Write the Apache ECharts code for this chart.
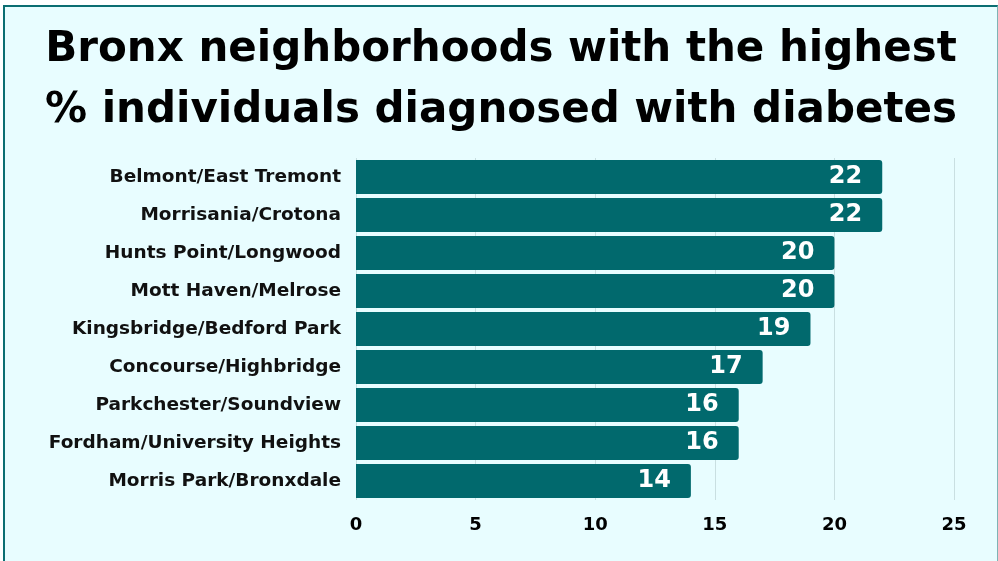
<!DOCTYPE html>
<html>
<head>
<meta charset="utf-8">
<script src="https://cdn.jsdelivr.net/npm/echarts@6/dist/echarts.min.js"></script>
<style>
  html, body { margin: 0; padding: 0; background: #ffffff; }
  #frame {
    position: absolute; left: 3px; top: 5px; width: 992px; height: 556px;
    background: #e8fdff;
    border-left: 2px solid #0b6e72; border-top: 2px solid #0b6e72; border-right: 1px solid #7fb3b5;
  }
  #chart { width: 992px; height: 556px; }
</style>
</head>
<body>
<div id="frame"><div id="chart"></div></div>
<script>
// 数据: 自上而下的街区与糖尿病比例 (%)
const neighborhoods = [
  'Belmont/East Tremont',
  'Morrisania/Crotona',
  'Hunts Point/Longwood',
  'Mott Haven/Melrose',
  'Kingsbridge/Bedford Park',
  'Concourse/Highbridge',
  'Parkchester/Soundview',
  'Fordham/University Heights',
  'Morris Park/Bronxdale'
]
const diabetesPct = [22, 22, 20, 20, 19, 17, 16, 16, 14]
const xTicks = [0, 5, 10, 15, 20, 25]

const font = '"DejaVu Sans", sans-serif'
const chart = echarts.init(document.getElementById('chart'))

chart.setOption({
  backgroundColor: 'transparent',
  animation: false,
  title: {
    text: 'Bronx neighborhoods with the highest\n% individuals diagnosed with diabetes',
    left: 'center',
    top: 8,
    padding: [5, 19, 5, 5],
    textStyle: { fontFamily: font, fontWeight: 'bold', fontSize: 42, lineHeight: 61, color: '#000' }
  },
  grid: { left: 351, right: 43, top: 151, bottom: 63 },
  xAxis: {
    type: 'value',
    min: 0,
    max: 25,
    interval: 5,
    axisLine: { show: false },
    axisTick: { show: false },
    splitLine: { lineStyle: { color: '#c9dfe1', width: 1 } },
    axisLabel: {
      margin: 16,
      fontFamily: font, fontSize: 18, fontWeight: 'bold', color: '#000',
      formatter: v => xTicks.includes(v) ? String(v) : ''
    }
  },
  yAxis: {
    type: 'category',
    inverse: true,
    data: neighborhoods,
    axisLine: { show: false },
    axisTick: { show: false },
    axisLabel: { margin: 15, fontFamily: font, fontSize: 18.5, fontWeight: 'bold', color: '#111' }
  },
  series: [{
    type: 'bar',
    data: diabetesPct,
    barCategoryGap: '10%',
    itemStyle: { color: '#01696d', borderRadius: [0, 3, 3, 0] },
    label: {
      show: true,
      position: 'insideRight',
      distance: 20,
      fontFamily: font, fontSize: 24, fontWeight: 'bold', color: '#fff'
    }
  }]
})
</script>
</body>
</html>
